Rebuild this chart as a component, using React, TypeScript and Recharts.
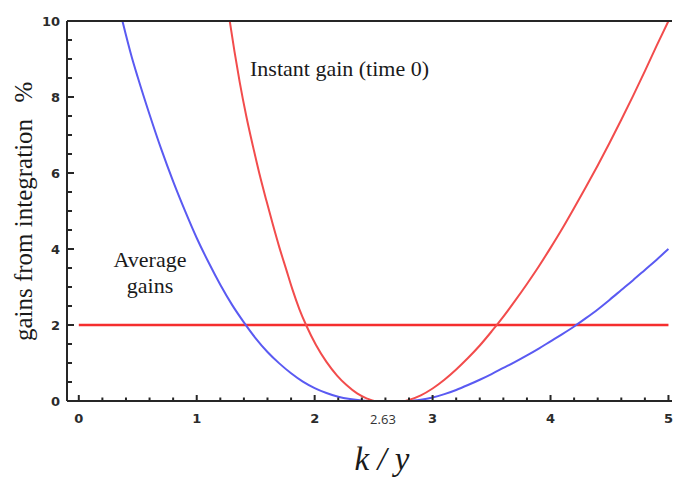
import React from 'react';
import { LineChart, Line, XAxis, YAxis } from 'recharts';

// average gains (blue)
const blueX = [0.37, 0.45, 0.5, 0.6, 0.7, 0.8, 0.9, 1.0, 1.1, 1.2, 1.3, 1.4, 1.5, 1.6, 1.7, 1.8, 1.9, 2.0, 2.1, 2.2, 2.3, 2.4, 2.5, 2.8, 2.9, 3.0, 3.1, 3.2, 3.3, 3.4, 3.5, 3.6, 3.7, 3.8, 3.9, 4.0, 4.1, 4.2, 4.3, 4.4, 4.5, 4.6, 4.7, 4.8, 4.9, 5.0];
const blueY = [10, 9.04, 8.52, 7.54, 6.62, 5.78, 5.01, 4.29, 3.65, 3.06, 2.53, 2.07, 1.65, 1.29, 0.99, 0.73, 0.51, 0.34, 0.21, 0.11, 0.05, 0.014, 0, 0, 0.03, 0.09, 0.18, 0.29, 0.42, 0.56, 0.71, 0.87, 1.03, 1.2, 1.38, 1.57, 1.76, 1.96, 2.18, 2.41, 2.66, 2.92, 3.18, 3.45, 3.72, 4.0];

// instant gain at time 0 (red)
const redX = [1.28, 1.32, 1.364, 1.42, 1.477, 1.53, 1.59, 1.645, 1.7, 1.76, 1.81, 1.87, 1.93, 2.01, 2.1, 2.19, 2.27, 2.36, 2.44, 2.52, 2.75, 2.8, 2.9, 3.0, 3.1, 3.2, 3.3, 3.4, 3.5, 3.6, 3.7, 3.8, 3.9, 4.0, 4.1, 4.2, 4.3, 4.4, 4.5, 4.6, 4.7, 4.8, 4.9, 5.0];
const redY = [10, 9.2, 8.4, 7.5, 6.7, 6.0, 5.28, 4.65, 4.05, 3.45, 2.95, 2.42, 1.98, 1.48, 1.03, 0.67, 0.42, 0.2, 0.07, 0, 0, 0.03, 0.15, 0.33, 0.56, 0.83, 1.13, 1.46, 1.83, 2.22, 2.64, 3.08, 3.54, 4.03, 4.54, 5.08, 5.63, 6.2, 6.79, 7.4, 8.03, 8.68, 9.35, 10];

// 2% threshold
const levelX = [0, 5];
const levelY = [2, 2];

const majorX = [0, 1, 2, 3, 4, 5];
const minorX = [0.2, 0.4, 0.6, 0.8, 1.2, 1.4, 1.6, 1.8, 2.2, 2.4, 2.6, 2.8, 3.2, 3.4, 3.6, 3.8, 4.2, 4.4, 4.6, 4.8];
const markX = 2.63;
const majorY = [0, 2, 4, 6, 8, 10];
const minorY = [0.5, 1, 1.5, 2.5, 3, 3.5, 4.5, 5, 5.5, 6.5, 7, 7.5, 8.5, 9, 9.5];

const toPoints = (xs: number[], ys: number[]) => xs.map((x, i) => ({ x, y: ys[i] }));
const blueData = toPoints(blueX, blueY);
const redData = toPoints(redX, redY);
const levelData = toPoints(levelX, levelY);

const AXIS = '#262626';
const serif = "'Liberation Serif', 'Times New Roman', serif";

const BottomTick = (props: any) => {
  const { x, y, payload } = props;
  const v = payload.value;
  if (v === markX) {
    return (
      <text x={x - 6} y={y + 23} textAnchor="middle" fontFamily="'Open Sans', sans-serif" fontSize={13} fill="#333">
        {markX}
      </text>
    );
  }
  const major = majorX.includes(v);
  return (
    <g>
      <line x1={x} x2={x} y1={y} y2={y - (major ? 6 : 3.5)} stroke={AXIS} strokeWidth={2} />
      {major && (
        <text x={x} y={y + 22} textAnchor="middle" fontFamily="'DejaVu Sans', sans-serif" fontWeight="bold" fontSize={13} fill="#2b2b2b">
          {v}
        </text>
      )}
    </g>
  );
};

const TopTick = (props: any) => {
  const { x, y, payload } = props;
  const major = majorX.includes(payload.value);
  return <line x1={x} x2={x} y1={y} y2={y + (major ? 7 : 4)} stroke={AXIS} strokeWidth={2} />;
};

const LeftTick = (props: any) => {
  const { x, y, payload } = props;
  const v = payload.value;
  const major = majorY.includes(v);
  return (
    <g>
      <line x1={x} x2={x + (major ? 7 : 5)} y1={y} y2={y} stroke={AXIS} strokeWidth={2} />
      {major && (
        <text x={x - 7} y={y} dy="0.36em" textAnchor="end" fontFamily="'DejaVu Sans', sans-serif" fontWeight="bold" fontSize={13} fill="#2b2b2b">
          {v}
        </text>
      )}
    </g>
  );
};

export default function App() {
  return (
    <div style={{ position: 'absolute', left: 0, top: 0, width: 673, height: 481, background: '#fff' }}>
      <LineChart width={673} height={481} margin={{ top: 1, right: 1, bottom: 50, left: 0 }}>
        <XAxis
          xAxisId="top"
          orientation="top"
          type="number"
          domain={[-0.1, 5.03]}
          allowDataOverflow
          ticks={[...majorX, ...minorX]}
          interval={0}
          height={20}
          tickSize={0}
          tickMargin={0}
          tickLine={false}
          tick={<TopTick />}
          axisLine={{ stroke: AXIS, strokeWidth: 2 }}
        />
        <XAxis
          dataKey="x"
          type="number"
          domain={[-0.1, 5.03]}
          allowDataOverflow
          ticks={[...majorX, ...minorX, markX]}
          interval={0}
          height={30}
          tickSize={0}
          tickMargin={0}
          tickLine={false}
          tick={<BottomTick />}
          axisLine={{ stroke: AXIS, strokeWidth: 2 }}
        />
        <YAxis
          type="number"
          domain={[0, 10]}
          allowDataOverflow
          ticks={[...majorY, ...minorY]}
          interval={0}
          width={67}
          tickSize={0}
          tickMargin={0}
          tickLine={false}
          tick={<LeftTick />}
          axisLine={{ stroke: AXIS, strokeWidth: 2 }}
        />
        <Line data={levelData} dataKey="y" type="linear" stroke="#f52e2e" strokeWidth={2.5} dot={false} isAnimationActive={false} />
        <Line data={blueData} dataKey="y" type="monotone" stroke="#5a5af2" strokeWidth={2} dot={false} isAnimationActive={false} />
        <Line data={redData} dataKey="y" type="monotone" stroke="#f24c4c" strokeWidth={2} dot={false} isAnimationActive={false} />

        <text x={32} y={230} transform="rotate(-90 32 230)" textAnchor="middle" fontFamily={serif} fontSize={25} fill="#1a1a1a">
          gains from integration
        </text>
        <text x={32} y={92} transform="rotate(-90 32 92)" textAnchor="middle" fontFamily={serif} fontSize={25} fill="#1a1a1a">
          %
        </text>
        <text x={382} y={470} textAnchor="middle" fontFamily={serif} fontStyle="italic" fontSize={33} fill="#1a1a1a">
          k / y
        </text>
        <text x={250} y={76} fontFamily={serif} fontSize={22} fill="#1a1a1a">
          Instant gain (time 0)
        </text>
        <text x={150} y={267} textAnchor="middle" fontFamily={serif} fontSize={22} fill="#1a1a1a">
          Average
        </text>
        <text x={150} y={293} textAnchor="middle" fontFamily={serif} fontSize={22} fill="#1a1a1a">
          gains
        </text>
      </LineChart>
    </div>
  );
}
